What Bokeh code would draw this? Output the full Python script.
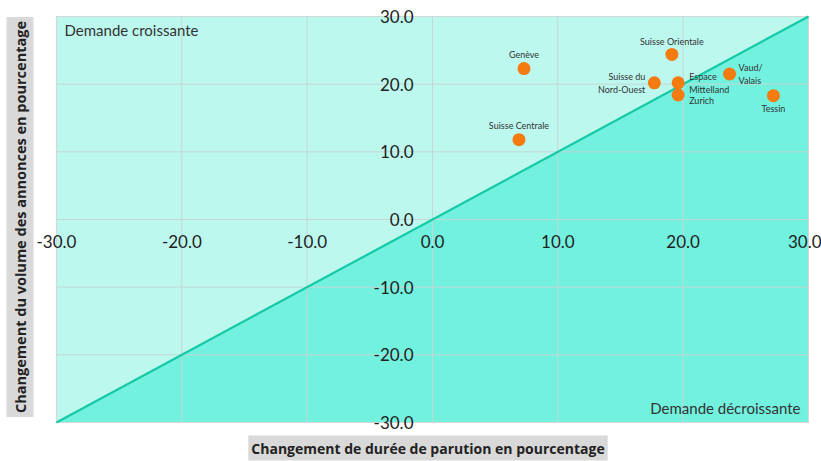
from bokeh.plotting import figure
from bokeh.models import (ColumnDataSource, Title, Range1d, NumeralTickFormatter,
                          FixedTicker, Label)
from bokeh.core.properties import value
from bokeh.embed import file_html
from bokeh.resources import INLINE

# ---- data ----
regions = ["Genève", "Suisse Orientale", "Suisse du\nNord-Ouest", "Espace\nMittelland",
           "Zurich", "Vaud/\nValais", "Tessin", "Suisse Centrale"]
duree = [7.3, 19.1, 17.7, 19.6, 19.6, 23.7, 27.2, 6.9]
volume = [22.3, 24.4, 20.2, 20.2, 18.4, 21.5, 18.3, 11.8]
ticks = [-30, -20, -10, 0, 10, 20, 30]
lo, hi = -30, 30

# label placement (screen px offsets) — style only
x_off = [0, 0, -9, 11, 11, 9, 0, 0]
y_off = [-14, -13, 0, 0, 6, 0, 13, -14]
align = ["center", "center", "right", "left", "left", "left", "center", "center"]

FONT = "Lato"

# ---- layout (pixels) ----
W, H = 821, 461
B_LEFT, B_BOTTOM = 34, 28
AREA_L, AREA_R, AREA_T, AREA_B = 56, 808, 16, 422   # plot-area box in page pixels
fw, fh = W - B_LEFT, H - B_BOTTOM
sx = (AREA_R - AREA_L) / (hi - lo)
sy = (AREA_B - AREA_T) / (hi - lo)
x_rng = Range1d(lo - (AREA_L - B_LEFT) / sx, hi + (W - AREA_R) / sx)
y_rng = Range1d(lo - (fh - AREA_B) / sy, hi + AREA_T / sy)

src = ColumnDataSource(dict(x=duree, y=volume, name=regions, xo=x_off, yo=y_off, al=align))

p = figure(width=W, height=H, output_backend="svg", toolbar_location=None,
           x_range=x_rng, y_range=y_rng,
           min_border_left=B_LEFT, min_border_right=0, min_border_top=0,
           min_border_bottom=B_BOTTOM,
           background_fill_color="white", border_fill_color="white",
           outline_line_color=None)

# regions
p.varea(x=[lo, hi], y1=[lo, hi], y2=[hi, hi], fill_color="#bdf8ef", level="image")
p.varea(x=[lo, hi], y1=[lo, lo], y2=[lo, hi], fill_color="#72f1df", level="image")

# grid lines bounded to the plot area
p.grid.visible = False
gx = [[t, t] for t in ticks] + [[lo, hi] for t in ticks]
gy = [[lo, hi] for t in ticks] + [[t, t] for t in ticks]
p.multi_line(xs=gx, ys=gy, line_color="#c4d7d3", line_width=1, level="underlay")

p.quad(left=[lo], right=[hi], bottom=[lo], top=[hi], fill_color=None,
       line_color="#d4d8d8", line_width=1.2)
p.line(x=[lo, hi], y=[lo, hi], line_color="#14c9a6", line_width=2.2)

for ax in (p.xaxis, p.yaxis):
    ax.ticker = FixedTicker(ticks=ticks)
    ax.formatter = NumeralTickFormatter(format="0.0")
    ax.axis_line_color = None
    ax.major_tick_line_color = None
    ax.minor_tick_line_color = None
    ax.major_label_text_font = FONT
    ax.major_label_text_font_size = "17px"
    ax.major_label_text_color = "#222222"
    ax.fixed_location = 0
p.xaxis.major_label_standoff = 9
p.yaxis.major_label_standoff = 13

p.scatter("x", "y", source=src, size=13, fill_color="#f47b0f", line_color=None)
p.text("x", "y", text="name", source=src, x_offset="xo", y_offset="yo", text_align="al",
       text_baseline="middle", text_font=value(FONT), text_font_size="9px",
       text_color="#333333", text_line_height=1.15)

p.add_layout(Label(x=lo, y=hi, x_offset=8, y_offset=-13,
                   text="Demande croissante", text_font=FONT, text_font_size="15px",
                   text_color="#333333", text_baseline="middle", text_align="left"))
p.add_layout(Label(x=hi, y=lo, x_offset=-8, y_offset=15,
                   text="Demande décroissante", text_font=FONT, text_font_size="15px",
                   text_color="#333333", text_baseline="middle", text_align="right"))

p.add_layout(Title(text="Changement du volume des annonces en pourcentage", align="center",
                   text_font="Open Sans", text_font_size="14.5px", text_font_style="bold",
                   text_color="#222222", background_fill_color="#d9d9d9",
                   padding=4, standoff=2), "left")
p.add_layout(Title(text="Changement de durée de parution en pourcentage", align="center",
                   text_font="Open Sans", text_font_size="14px", text_font_style="bold",
                   text_color="#222222", background_fill_color="#d9d9d9",
                   padding=3, standoff=0), "below")

open("out.html", "w").write(file_html(p, INLINE))
